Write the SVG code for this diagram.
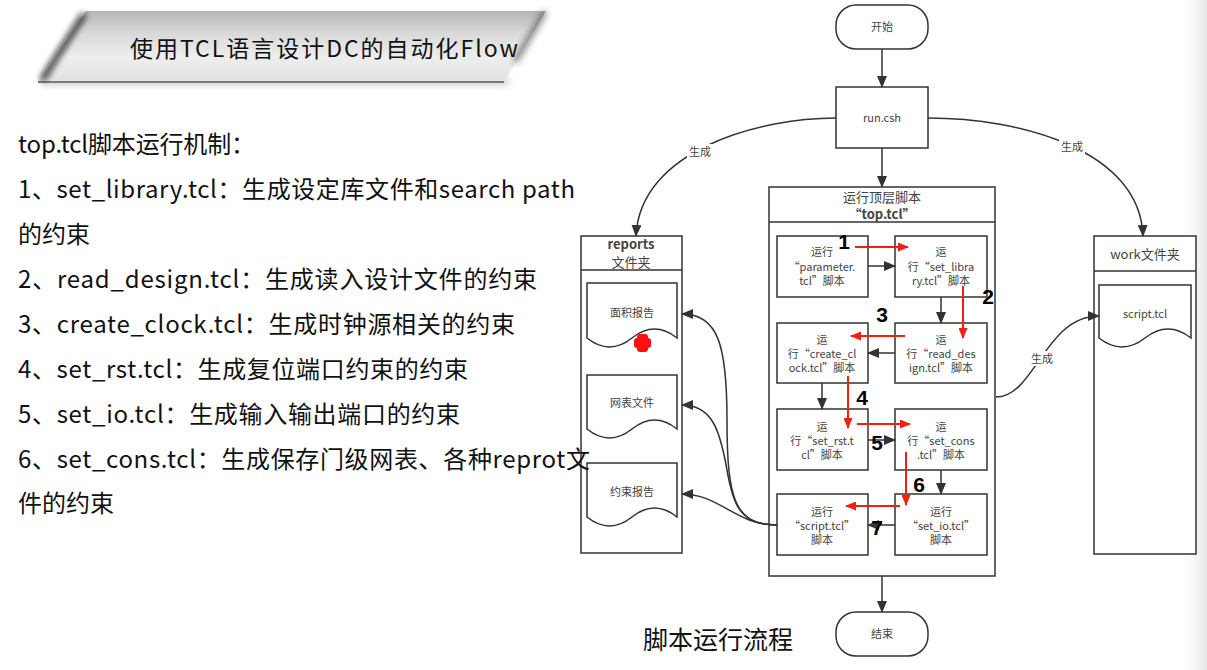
<svg xmlns="http://www.w3.org/2000/svg" width="1207" height="670" viewBox="0 0 1207 670">
  <defs>
    <style>
      .cjk { font-family: "Noto Sans CJK SC", "Liberation Sans", sans-serif; }
      .lbl { font-family: "Noto Sans CJK SC", "Liberation Sans", sans-serif; font-size: 11px; fill: #444; text-anchor: middle; }
      .hdr { font-family: "Noto Sans CJK SC", "Liberation Sans", sans-serif; font-size: 13px; fill: #444; text-anchor: middle; }
      .body { font-family: "Noto Sans CJK SC", "Liberation Sans", sans-serif; font-size: 24px; fill: #111; }
      .box { fill: #fff; stroke: #333; stroke-width: 1.5; }
      .wire { fill: none; stroke: #333; stroke-width: 1.5; }
      .red { fill: none; stroke: #f2200f; stroke-width: 2; }
      .num { font-family: "Liberation Sans", Arial, sans-serif; font-weight: bold; font-size: 21px; fill: #000; text-anchor: middle; }
    </style>
    <marker id="arr" markerUnits="userSpaceOnUse" markerWidth="12" markerHeight="10" viewBox="0 0 12 10" refX="11" refY="5" orient="auto">
      <path d="M0,0 L12,5 L0,10 Z" fill="#333"/>
    </marker>
    <marker id="arrRed" markerUnits="userSpaceOnUse" markerWidth="11" markerHeight="9" viewBox="0 0 11 9" refX="10" refY="4.5" orient="auto">
      <path d="M0,0 L11,4.5 L0,9 Z" fill="#f2200f"/>
    </marker>
    <linearGradient id="bannerFill" x1="0" y1="0" x2="0" y2="1">
      <stop offset="0" stop-color="#b4b4b4"/>
      <stop offset="0.3" stop-color="#d8d8d8"/>
      <stop offset="0.65" stop-color="#eeeeee"/>
      <stop offset="1" stop-color="#e2e2e2"/>
    </linearGradient>
    <linearGradient id="edgeFade" x1="0" y1="0" x2="1" y2="0">
      <stop offset="0" stop-color="#ffffff" stop-opacity="0"/>
      <stop offset="1" stop-color="#e6e6e6"/>
    </linearGradient>
    <filter id="soft" x="-50%" y="-50%" width="200%" height="200%">
      <feGaussianBlur stdDeviation="3"/>
    </filter>
  </defs>

  <rect width="1207" height="670" fill="#fff"/>
  <rect x="1176" y="0" width="31" height="670" fill="url(#edgeFade)"/>

  <!-- title banner -->
  <g id="title">
    <polygon points="40,86 506,86 512,78 46,78" fill="#bbb" filter="url(#soft)" opacity="0.6"/>
    <polygon points="86,11 546,11 504,82 38,82" fill="url(#bannerFill)"/>
    <line x1="84" y1="14" x2="42" y2="80" stroke="#111" stroke-width="6" filter="url(#soft)" opacity="0.85"/>
    <line x1="545" y1="12" x2="515" y2="62" stroke="#222" stroke-width="5" filter="url(#soft)" opacity="0.6"/>
    <line x1="38" y1="82" x2="504" y2="82" stroke="#555" stroke-width="1.5"/>
    <text x="130" y="57" class="cjk" font-size="23" fill="#111" textLength="388" lengthAdjust="spacing">使用TCL语言设计DC的自动化Flow</text>
  </g>

  <!-- description text -->
  <g id="notes">
    <text x="18" y="153" class="body" textLength="237" lengthAdjust="spacing">top.tcl脚本运行机制：</text>
    <text x="18" y="198" class="body" textLength="557" lengthAdjust="spacing">1、set_library.tcl：生成设定库文件和search path</text>
    <text x="18" y="243" class="body">的约束</text>
    <text x="18" y="288" class="body" textLength="519" lengthAdjust="spacing">2、read_design.tcl：生成读入设计文件的约束</text>
    <text x="18" y="333" class="body" textLength="497" lengthAdjust="spacing">3、create_clock.tcl：生成时钟源相关的约束</text>
    <text x="18" y="378" class="body" textLength="450" lengthAdjust="spacing">4、set_rst.tcl：生成复位端口约束的约束</text>
    <text x="18" y="423" class="body" textLength="442" lengthAdjust="spacing">5、set_io.tcl：生成输入输出端口的约束</text>
    <text x="18" y="512" class="body">件的约束</text>
  </g>

  <!-- terminals and main script -->
  <g id="start">
    <rect x="836" y="5" width="92" height="44" rx="20" class="box"/>
    <text x="882" y="31" class="lbl">开始</text>
  </g>
  <g id="runcsh">
    <rect x="836" y="87" width="92" height="61" class="box"/>
    <text x="882" y="122" class="lbl">run.csh</text>
  </g>
  <g id="end">
    <rect x="836" y="612" width="92" height="44" rx="20" class="box"/>
    <text x="882" y="638" class="lbl">结束</text>
  </g>

  <!-- top.tcl container -->
  <g id="toptcl">
    <rect x="769" y="187" width="226" height="389" class="box"/>
    <line x1="769" y1="222" x2="995" y2="222" stroke="#333" stroke-width="1.5"/>
    <text x="882" y="202" class="hdr">运行顶层脚本</text>
    <text x="882" y="219" class="hdr" fill="#333" font-weight="bold">“top.tcl”</text>
  </g>

  <g id="parameter">
    <rect x="777" y="236" width="91" height="61" class="box"/>
    <text x="822" y="256" class="lbl">运行</text>
    <text x="822" y="271" class="lbl">“parameter.</text>
    <text x="822" y="285" class="lbl">tcl”脚本</text>
  </g>
  <g id="set_library">
    <rect x="895" y="236" width="92" height="61" class="box"/>
    <text x="941" y="256" class="lbl">运</text>
    <text x="941" y="271" class="lbl">行“set_libra</text>
    <text x="941" y="285" class="lbl">ry.tcl”脚本</text>
  </g>
  <g id="create_clock">
    <rect x="777" y="323" width="91" height="60" class="box"/>
    <text x="822" y="344" class="lbl">运</text>
    <text x="822" y="358" class="lbl">行“create_cl</text>
    <text x="822" y="372" class="lbl">ock.tcl”脚本</text>
  </g>
  <g id="read_design">
    <rect x="895" y="323" width="92" height="60" class="box"/>
    <text x="941" y="344" class="lbl">运</text>
    <text x="941" y="358" class="lbl">行“read_des</text>
    <text x="941" y="372" class="lbl">ign.tcl”脚本</text>
  </g>
  <g id="set_rst">
    <rect x="777" y="409" width="91" height="61" class="box"/>
    <text x="822" y="431" class="lbl">运</text>
    <text x="822" y="445" class="lbl">行“set_rst.t</text>
    <text x="822" y="459" class="lbl">cl”脚本</text>
  </g>
  <g id="set_cons">
    <rect x="895" y="409" width="92" height="61" class="box"/>
    <text x="941" y="431" class="lbl">运</text>
    <text x="941" y="445" class="lbl">行“set_cons</text>
    <text x="941" y="459" class="lbl">.tcl”脚本</text>
  </g>
  <g id="script">
    <rect x="777" y="494" width="91" height="61" class="box"/>
    <text x="822" y="516" class="lbl">运行</text>
    <text x="822" y="530" class="lbl">“script.tcl”</text>
    <text x="822" y="544" class="lbl">脚本</text>
  </g>
  <g id="set_io">
    <rect x="895" y="494" width="92" height="61" class="box"/>
    <text x="941" y="516" class="lbl">运行</text>
    <text x="941" y="530" class="lbl">“set_io.tcl”</text>
    <text x="941" y="544" class="lbl">脚本</text>
  </g>

  <!-- reports folder -->
  <g id="reports">
    <rect x="581" y="236" width="101" height="317" class="box"/>
    <line x1="581" y1="270" x2="682" y2="270" stroke="#333" stroke-width="1.5"/>
    <text x="631" y="249" class="hdr" fill="#333" font-weight="bold">reports</text>
    <text x="631" y="267" class="hdr" fill="#555">文件夹</text>
  </g>
  <g id="area_report">
    <path d="M587,283 H677 V338 Q654.5,320 632,338 Q609.5,356 587,338 Z" class="box"/>
    <text x="632" y="317" class="lbl">面积报告</text>
  </g>
  <g id="netlist">
    <path d="M587,375 H677 V429 Q654.5,411 632,429 Q609.5,447 587,429 Z" class="box"/>
    <text x="632" y="407" class="lbl">网表文件</text>
  </g>
  <g id="constraint_report">
    <path d="M587,463 H677 V517 Q654.5,499 632,517 Q609.5,535 587,517 Z" class="box"/>
    <text x="632" y="496" class="lbl">约束报告</text>
  </g>

  <!-- description line that runs over the reports folder -->
  <text x="18" y="468" class="body" textLength="572" lengthAdjust="spacing">6、set_cons.tcl：生成保存门级网表、各种reprot文</text>

  <!-- cursor marker -->
  <g id="marker" fill="#ff1010">
    <rect x="634" y="338" width="17" height="10" rx="3"/>
    <rect x="637" y="334" width="11" height="18" rx="3"/>
  </g>

  <!-- work folder -->
  <g id="work">
    <rect x="1094" y="236" width="102" height="318" class="box"/>
    <line x1="1094" y1="271" x2="1196" y2="271" stroke="#333" stroke-width="1.5"/>
    <text x="1145" y="259" class="hdr" fill="#333" font-size="14">work文件夹</text>
  </g>
  <g id="script_file">
    <path d="M1099,285 H1191 V338 Q1168,320 1145,338 Q1122,356 1099,338 Z" class="box"/>
    <text x="1145" y="318" class="lbl">script.tcl</text>
  </g>

  <!-- connectors -->
  <g id="connectors">
    <line x1="882" y1="49" x2="882" y2="87" class="wire" marker-end="url(#arr)"/>
    <line x1="882" y1="148" x2="882" y2="187" class="wire" marker-end="url(#arr)"/>
    <line x1="882" y1="576" x2="882" y2="612" class="wire" marker-end="url(#arr)"/>

    <path d="M836,118 C760,118 640,150 636,236" class="wire" marker-end="url(#arr)"/>
    <path d="M928,118 C1020,118 1140,150 1143,236" class="wire" marker-end="url(#arr)"/>
    <path d="M996,397 C1035,397 1045,316 1099,316" class="wire" marker-end="url(#arr)"/>

    <path d="M777,525 C735,525 727,500 727,420 C727,345 718,314 682,314" class="wire" marker-end="url(#arr)"/>
    <path d="M777,525 C740,525 733,505 727,470 C720,430 712,405 682,405" class="wire" marker-end="url(#arr)"/>
    <path d="M777,525 C735,525 720,494 682,494" class="wire" marker-end="url(#arr)"/>

    <line x1="868" y1="266" x2="895" y2="266" class="wire" marker-end="url(#arr)"/>
    <line x1="941" y1="297" x2="941" y2="323" class="wire" marker-end="url(#arr)"/>
    <line x1="895" y1="353" x2="868" y2="353" class="wire" marker-end="url(#arr)"/>
    <line x1="822" y1="383" x2="822" y2="409" class="wire" marker-end="url(#arr)"/>
    <line x1="868" y1="440" x2="895" y2="440" class="wire" marker-end="url(#arr)"/>
    <line x1="941" y1="470" x2="941" y2="494" class="wire" marker-end="url(#arr)"/>
    <line x1="895" y1="525" x2="868" y2="525" class="wire" marker-end="url(#arr)"/>

    <g id="labels">
      <rect x="687" y="144" width="26" height="15" fill="#fff"/>
      <text x="700" y="156" class="lbl">生成</text>
      <rect x="1059" y="139" width="26" height="15" fill="#fff"/>
      <text x="1072" y="151" class="lbl">生成</text>
      <rect x="1029" y="351" width="26" height="15" fill="#fff"/>
      <text x="1042" y="363" class="lbl">生成</text>
    </g>
  </g>

  <!-- execution order -->
  <g id="order">
    <line x1="855" y1="247" x2="908" y2="247" class="red" marker-end="url(#arrRed)"/>
    <line x1="963" y1="286" x2="963" y2="338" class="red" marker-end="url(#arrRed)"/>
    <line x1="905" y1="336" x2="851" y2="336" class="red" marker-end="url(#arrRed)"/>
    <line x1="848" y1="376" x2="848" y2="428" class="red" marker-end="url(#arrRed)"/>
    <line x1="857" y1="424" x2="910" y2="424" class="red" marker-end="url(#arrRed)"/>
    <line x1="906" y1="452" x2="906" y2="505" class="red" marker-end="url(#arrRed)"/>
    <line x1="900" y1="506" x2="846" y2="506" class="red" marker-end="url(#arrRed)"/>

    <text x="844" y="249" class="num">1</text>
    <text x="988" y="304" class="num">2</text>
    <text x="882" y="322" class="num">3</text>
    <text x="862" y="405" class="num">4</text>
    <text x="877" y="450" class="num">5</text>
    <text x="919" y="492" class="num">6</text>
    <text x="877" y="535" class="num">7</text>
  </g>

  <text x="643" y="649" class="cjk" font-size="25" fill="#111">脚本运行流程</text>
</svg>
